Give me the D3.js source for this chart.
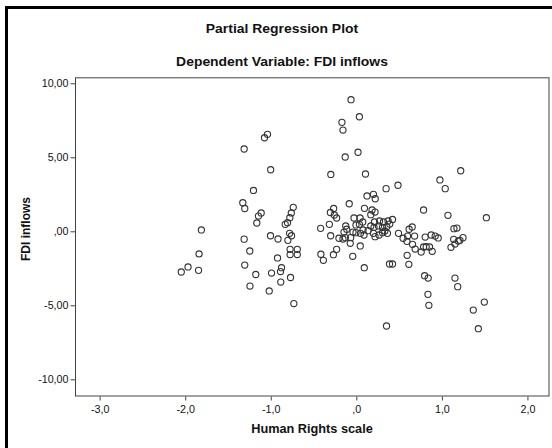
<!DOCTYPE html>
<html>
<head>
<meta charset="utf-8">
<script src="https://cdn.jsdelivr.net/npm/d3@7"></script>
<style>
  html, body { margin: 0; padding: 0; background: #fff; }
  svg text { font-family: "Liberation Sans", Arial, sans-serif; fill: #111; }
</style>
</head>
<body>
<svg id="chart" width="552" height="448"></svg>
<script>
// Partial regression residuals: Human Rights scale (x) vs FDI inflows (y)
const humanRights = [
  -2.046,-1.967,-1.844,-1.811,-1.838,-1.327,-1.304,-1.311,-1.304,-1.245,
  -1.243,-1.202,-1.112,-1.144,-1.163,-1.175,-1.311,-1.073,-1.038,-1.001,
  -1.003,-0.915,-0.991,-0.874,-0.886,-0.883,-1.018,-0.921,-0.730,-0.769,
  -0.737,-0.760,-0.777,-0.804,-0.831,-0.780,-0.757,-0.800,-0.774,-0.690,
  -0.774,-0.690,
  -0.298,-0.417,-0.315,-0.300,-0.414,-0.385,-0.268,-0.230,-0.203,-0.156,
  -0.144,-0.112,-0.265,-0.303,-0.257,-0.230,-0.062,0.036,-0.168,-0.156,
  0.020,-0.130,0.107,-0.083,-0.071,-0.042,0.046,0.093,
  0.095,0.184,0.219,0.169,-0.027,0.043,0.075,0.212,0.271,0.318,
  0.371,0.423,0.391,0.493,-0.124,-0.004,0.036,0.169,0.207,0.259,
  0.306,0.356,0.079,0.137,-0.039,-0.004,-0.128,-0.066,
  0.048,0.090,0.200,0.219,0.266,0.306,0.333,0.364,0.125,0.200,0.221,0.348,0.487,
  0.617,0.653,0.547,0.599,0.681,0.591,0.657,0.688,0.758,0.805,
  0.875,0.922,0.957,0.786,0.817,0.856,0.887,1.138,1.192,1.211,
  1.247,1.153,1.106,0.594,0.614,0.388,0.423,0.798,0.840,0.837,
  0.848,1.153,1.185,0.353,1.367,1.496,1.426,1.220,0.977,1.039,
  0.786,1.071,1.520,1.141,1.176
];
const fdiInflows = [
  -2.75,-2.41,-2.64,0.09,-1.53,1.93,1.54,-0.53,-2.28,-1.33,
  -3.70,2.76,1.24,1.03,0.56,-2.92,5.56,6.32,6.55,4.16,
  -0.30,-0.52,-2.82,-2.46,-2.72,-3.43,-4.03,-1.80,-4.88,-3.12,
  1.62,1.24,0.92,0.58,0.47,-0.14,-0.30,-0.61,-1.22,-1.22,
  -1.57,-1.57,
  3.84,0.20,0.47,-0.30,-1.55,-1.96,-1.58,-1.22,-0.47,-0.52,
  -0.05,0.14,1.54,1.27,1.10,0.90,8.89,7.74,7.36,6.84,
  5.34,5.02,3.87,1.86,-0.81,-1.69,-0.99,-2.46,
  1.55,1.44,1.30,1.12,0.90,0.90,0.63,0.63,0.70,0.63,
  0.70,0.80,0.49,-0.14,0.36,0.43,0.47,0.36,0.27,0.36,
  0.27,0.31,0.09,0.04,-0.05,-0.09,-0.43,-0.43,
  -0.14,-0.25,-0.14,-0.36,-0.25,-0.09,0.02,-0.14,2.39,2.50,2.20,2.88,3.11,
  0.14,0.29,-0.47,-0.32,-0.32,-0.68,-0.88,-1.20,-1.40,-0.39,
  -0.25,-0.32,-0.45,-1.06,-1.04,-1.06,-1.35,-0.54,-0.66,-0.61,
  -0.43,-0.86,-1.08,-1.62,-2.23,-2.21,-2.21,-3.00,-3.16,-4.26,
  -5.00,-3.16,-3.74,-6.40,-5.32,-4.78,-6.58,4.09,3.47,2.88,
  1.44,1.08,0.92,0.18,0.22
];

const xTicks = [-3, -2, -1, 0, 1, 2];
const xTickLabels = ["-3,0", "-2,0", "-1,0", ",0", "1,0", "2,0"];
const yTicks = [-10, -5, 0, 5, 10];
const yTickLabels = ["-10,00", "-5,00", ",00", "5,00", "10,00"];

const titleText = "Partial Regression Plot";
const subtitleText = "Dependent Variable: FDI inflows";
const xLabel = "Human Rights scale";
const yLabel = "FDI inflows";

const points = humanRights.map((v, i) => ({ x: v, y: fdiInflows[i] }));

const svg = d3.select("#chart");
const box = { left: 75, top: 77.3, right: 549, bottom: 396 };

const x = d3.scaleLinear().domain([-3.288, 2.252]).range([box.left, box.right]);
const y = d3.scaleLinear().domain([-11.128, 10.405]).range([box.bottom, box.top]);

// widen glyphs slightly, like the SPSS export
const widen = (sel, k) => sel.each(function () {
  const w = this.getComputedTextLength();
  d3.select(this).attr("textLength", w * k).attr("lengthAdjust", "spacingAndGlyphs");
});

// outer chart border (left and top edges)
svg.append("path")
  .attr("d", "M6.5,448 V7.5 H552")
  .attr("fill", "none")
  .attr("stroke", "#000")
  .attr("stroke-width", 3);

// titles
svg.append("text")
  .attr("x", 282).attr("y", 33.3)
  .attr("text-anchor", "middle")
  .attr("font-size", 13).attr("font-weight", "bold")
  .text(titleText).call(widen, 1.07);

svg.append("text")
  .attr("x", 282).attr("y", 65.5)
  .attr("text-anchor", "middle")
  .attr("font-size", 13).attr("font-weight", "bold")
  .text(subtitleText).call(widen, 1.07);

// plot frame
svg.append("rect")
  .attr("x", box.left + 0.5).attr("y", box.top + 0.5)
  .attr("width", box.right - box.left - 0.5)
  .attr("height", box.bottom - box.top - 0.5)
  .attr("fill", "#fff")
  .attr("stroke", "#444")
  .attr("stroke-width", 1);

// axes
const gx = svg.append("g")
  .attr("transform", `translate(0,${box.bottom + 0.5})`)
  .call(d3.axisBottom(x).tickValues(xTicks)
    .tickFormat((d, i) => xTickLabels[i]).tickSize(4).tickPadding(5));
const gy = svg.append("g")
  .attr("transform", `translate(${box.left + 0.5},0)`)
  .call(d3.axisLeft(y).tickValues(yTicks)
    .tickFormat((d, i) => yTickLabels[i]).tickSize(5).tickPadding(2));

[gx, gy].forEach(g => {
  g.select(".domain").remove();
  g.selectAll(".tick line").attr("stroke", "#444");
  g.selectAll(".tick text")
    .attr("font-family", "'Liberation Sans', Arial, sans-serif")
    .attr("font-size", 10)
    .attr("fill", "#111")
    .call(widen, 1.07);
});

// axis titles
svg.append("text")
  .attr("x", (box.left + box.right) / 2).attr("y", 433)
  .attr("text-anchor", "middle")
  .attr("font-size", 12).attr("font-weight", "bold")
  .text(xLabel).call(widen, 1.06);

svg.append("text")
  .attr("transform", "translate(29.5,229) rotate(-90)")
  .attr("text-anchor", "middle")
  .attr("font-size", 12).attr("font-weight", "bold")
  .text(yLabel);

// scatter markers
svg.append("g")
  .selectAll("circle")
  .data(points)
  .join("circle")
  .attr("cx", d => x(d.x))
  .attr("cy", d => y(d.y))
  .attr("r", 3.1)
  .attr("fill", "none")
  .attr("stroke", "#333")
  .attr("stroke-width", 1.1);
</script>
</body>
</html>
